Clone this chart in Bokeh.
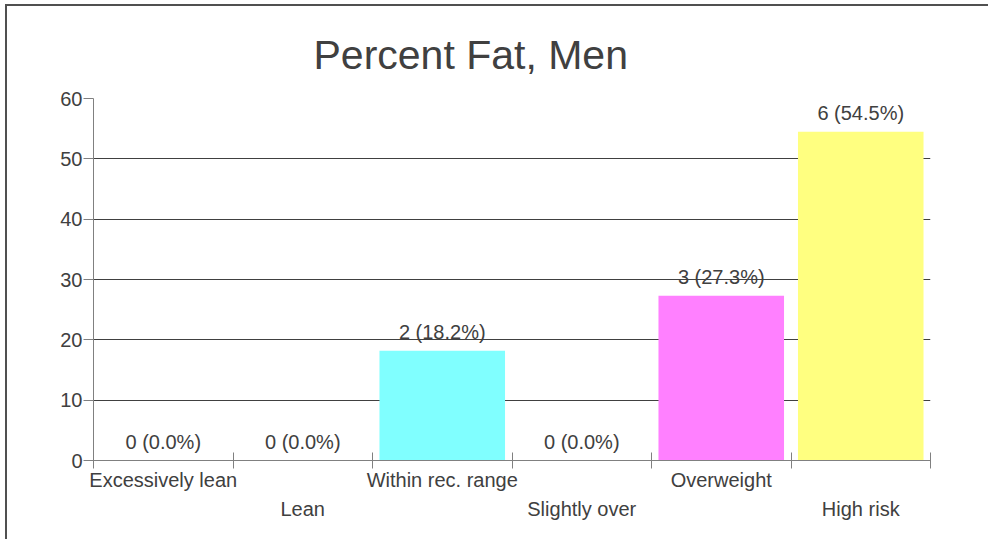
from bokeh.plotting import figure
from bokeh.models import Range1d, LinearAxis, FixedTicker, ColumnDataSource
from bokeh.embed import file_html
from bokeh.resources import INLINE
from bokeh.core.properties import value

# ---- data ----
categories = ["Excessively lean", "Lean", "Within rec. range", "Slightly over", "Overweight", "High risk"]
counts = [0, 0, 2, 0, 3, 6]
percents = [0.0, 0.0, 18.2, 0.0, 27.3, 54.5]
bar_colors = ["#FF8080", "#80FF80", "#80FFFF", "#8080FF", "#FF80FF", "#FFFF80"]
y_ticks = [0, 10, 20, 30, 40, 50, 60]
title_text = "Percent Fat, Men"

n = len(categories)
centers = [i + 0.5 for i in range(n)]
labels = [f"{c} ({p:.1f}%)" for c, p in zip(counts, percents)]
src = ColumnDataSource(dict(x=centers, cat=categories, pct=percents, color=bar_colors, label=labels))

FONT = "Liberation Sans"
TXT = "#404040"
AX = "#808080"

p = figure(width=983, height=535,
           x_range=Range1d(0, n), y_range=Range1d(0, 60),
           output_backend="svg", toolbar_location=None, x_axis_location=None,
           min_border_left=86, min_border_right=60, min_border_top=92, min_border_bottom=81)
p.styles = {"border-top": "2px solid #505050", "border-left": "2px solid #505050",
            "margin-left": "5px", "margin-top": "4px"}
p.outline_line_color = None
p.background_fill_color = "white"
p.border_fill_color = "white"

# title
p.title.text = title_text
p.title.align = "left"
p.title.offset = 220
p.title.standoff = 41
p.title.text_font = FONT
p.title.text_font_size = "41px"
p.title.text_font_style = "normal"
p.title.text_color = TXT

# y axis / grid
p.yaxis.ticker = FixedTicker(ticks=y_ticks)
p.yaxis.major_tick_out = 10
p.yaxis.major_tick_in = 0
p.yaxis.minor_tick_line_color = None
p.yaxis.axis_line_color = AX
p.yaxis.major_tick_line_color = AX
p.yaxis.major_label_standoff = 1
p.yaxis.major_label_text_font = FONT
p.yaxis.major_label_text_font_size = "20px"
p.yaxis.major_label_text_color = TXT
p.ygrid.ticker = FixedTicker(ticks=y_ticks)
p.ygrid.grid_line_color = "#404040"
p.xgrid.visible = False

# x axes: boundary ticks + two staggered label rows
edges = list(range(n + 1))
edge_axis = LinearAxis(ticker=FixedTicker(ticks=edges),
                       major_label_overrides={e: "" for e in edges},
                       major_label_text_font_size="0px", major_label_standoff=0,
                       major_tick_in=8, major_tick_out=8,
                       minor_tick_line_color=None,
                       axis_line_color=AX, major_tick_line_color=AX)
p.add_layout(edge_axis, "below")

def label_row(idx, standoff):
    pos = [centers[i] for i in idx]
    return LinearAxis(ticker=FixedTicker(ticks=pos),
                      major_label_overrides={centers[i]: categories[i] for i in idx},
                      major_label_standoff=standoff,
                      major_tick_in=0, major_tick_out=0,
                      axis_line_color=None, major_tick_line_color=None,
                      minor_tick_line_color=None,
                      major_label_text_font=FONT, major_label_text_font_size="20px",
                      major_label_text_color=TXT)

p.add_layout(label_row(range(0, n, 2), 0), "below")
p.add_layout(label_row(range(1, n, 2), 4), "below")

# bars and value labels
p.vbar(x="x", top="pct", width=0.9, fill_color="color", line_color=None, source=src)
p.text(x="x", y="pct", text="label", text_align="center", text_baseline="alphabetic",
       y_offset=-19, text_font=value(FONT), text_font_size="20px", text_color=TXT, source=src)

open("out.html", "w").write(file_html(p, INLINE))
